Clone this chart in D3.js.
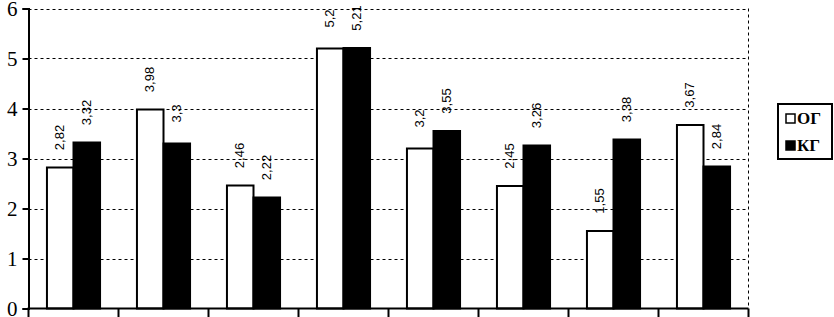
<!DOCTYPE html>
<html><head><meta charset="utf-8">
<script src="https://cdn.jsdelivr.net/npm/d3@7"></script>
<style>body{margin:0;background:#fff}</style>
</head><body>
<svg id="c" width="834" height="317"></svg>
<script>
const categories = ["1","2","3","4","5","6","7","8"];
const seriesNames = ["ОГ","КГ"];
const og = [2.82, 3.98, 2.46, 5.2, 3.2, 2.45, 1.55, 3.67];
const kg = [3.32, 3.3, 2.22, 5.21, 3.55, 3.26, 3.38, 2.84];
const labelsOG = ["2,82","3,98","2,46","5,2","3,2","2,45","1,55","3,67"];
const labelsKG = ["3,32","3,3","2,22","5,21","3,55","3,26","3,38","2,84"];
const yTicks = [0,1,2,3,4,5,6];

const svg = d3.select("#c");
const x0 = 28.5, x1 = 748.5, yb = 308.5, yt = 8.5;
const x = d3.scaleBand().domain(categories).range([x0, x1]).paddingInner(0.41).paddingOuter(0.205);
const xs = d3.scaleBand().domain(seriesNames).range([0, x.bandwidth()]);
const y = d3.scaleLinear().domain([0, 6]).range([yb, yt]);

// grid
const g = svg.append("g");
g.selectAll("line.grid").data(yTicks.filter(d=>d>0)).join("line")
  .attr("x1", x0).attr("x2", x1).attr("y1", d=>Math.round(y(d))+0.5).attr("y2", d=>Math.round(y(d))+0.5)
  .attr("stroke","#000").attr("stroke-width",1).attr("stroke-dasharray","3,3");
g.append("line").attr("x1", x1).attr("x2", x1).attr("y1", yt).attr("y2", yb)
  .attr("stroke","#000").attr("stroke-width",1).attr("stroke-dasharray","3,3");

// bars
const rows = categories.map((c,i)=>({c, vals:[{s:"ОГ",v:og[i],l:labelsOG[i]},{s:"КГ",v:kg[i],l:labelsKG[i]}]}));
const grp = svg.append("g").selectAll("g").data(rows).join("g")
  .attr("transform", d=>`translate(${x(d.c)},0)`);
grp.selectAll("rect").data(d=>d.vals).join("rect")
  .attr("x", d=>xs(d.s)).attr("width", xs.bandwidth())
  .attr("y", d=>y(d.v)).attr("height", d=>yb - y(d.v))
  .attr("fill", d=>d.s==="ОГ"?"#fff":"#000")
  .attr("stroke","#000").attr("stroke-width",2);
grp.selectAll("text").data(d=>d.vals).join("text")
  .attr("transform", d=>`translate(${xs(d.s)+xs.bandwidth()/2+4},${y(d.v)-30}) rotate(-90)`)
  .attr("text-anchor","middle")
  .attr("font-family","Liberation Sans, Arial, sans-serif").attr("font-size",13)
  .text(d=>d.l);

// y axis
const ya = svg.append("g").attr("transform",`translate(${x0},0)`)
  .call(d3.axisLeft(y).tickValues(yTicks).tickSize(6).tickPadding(5).tickFormat(d3.format("d")));
ya.select(".domain").attr("stroke-width",2);
ya.selectAll(".tick line").attr("stroke-width",2);
ya.selectAll("text").attr("font-family","Liberation Serif, Times New Roman, serif").attr("font-size",21).attr("fill","#000");

// x axis
const xa = svg.append("g").attr("transform",`translate(0,${yb})`)
  .call(d3.axisBottom(x).tickSize(0).tickFormat(""));
xa.select(".domain").attr("stroke-width",2).attr("d",`M${x0-1},0H${x1}`);
const bounds = categories.map(c=>x(c)-x.step()*0.205).concat([x1]);
xa.selectAll("line.b").data(bounds).join("line").attr("class","b")
  .attr("x1",d=>d).attr("x2",d=>d).attr("y1",0).attr("y2",9)
  .attr("stroke","#000").attr("stroke-width",2);

// legend
const lg = svg.append("g");
lg.append("rect").attr("x",778).attr("y",104).attr("width",54).attr("height",55)
  .attr("fill","#fff").attr("stroke","#000").attr("stroke-width",2);
const items = lg.selectAll("g").data(seriesNames).join("g")
  .attr("transform",(d,i)=>`translate(786,${114+i*27})`);
items.append("rect").attr("width",9).attr("height",9)
  .attr("fill",d=>d==="ОГ"?"#fff":"#000").attr("stroke","#000").attr("stroke-width",1.5);
items.append("text").attr("x",11).attr("y",10)
  .attr("font-family","Liberation Serif, Times New Roman, serif").attr("font-weight","bold").attr("font-size",17)
  .text(d=>d);
</script>
</body></html>
